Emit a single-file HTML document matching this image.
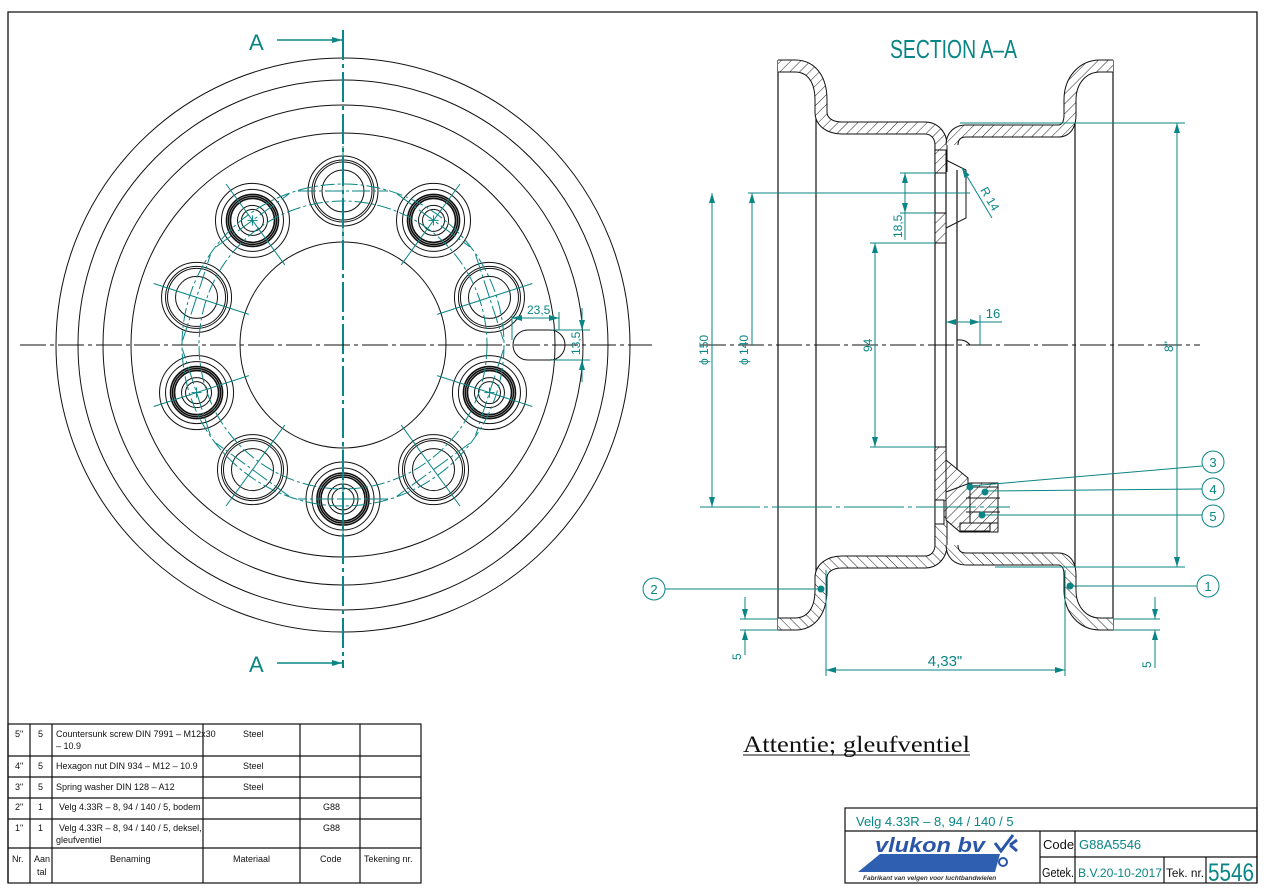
<!DOCTYPE html>
<html><head><meta charset="utf-8"><style>
html,body{margin:0;padding:0;background:#fff}
svg{display:block}
.t{fill:#0a8585;font-family:"Liberation Sans Narrow","Liberation Sans",sans-serif}
.k{font-family:"Liberation Sans Narrow","Liberation Sans",sans-serif;fill:#111}
</style></head><body>
<svg id="s" width="1266" height="891" viewBox="0 0 1266 891" xmlns="http://www.w3.org/2000/svg">
<defs>
<pattern id="h" width="7" height="7" patternUnits="userSpaceOnUse" patternTransform="rotate(45)">
<rect width="7" height="7" fill="#fff"/><line x1="0" y1="0" x2="0" y2="7" stroke="#222" stroke-width="1"/>
</pattern>
<marker id="a" markerWidth="10" markerHeight="6" refX="10" refY="3" orient="auto-start-reverse" markerUnits="userSpaceOnUse"><path d="M0,0L10,3L0,6z" fill="#0a8585"/></marker>
</defs>
<path d="M8,883V12H1257V883" fill="none" stroke="#111" stroke-width="1.3"/>

<g fill="none" stroke="#111" stroke-width="1">
<circle cx="343" cy="345" r="287"/>
<circle cx="343" cy="345" r="265"/>
<circle cx="343" cy="345" r="240"/>
<circle cx="343" cy="345" r="212"/>
<circle cx="343" cy="345" r="103"/>
<path d="M528,330H550A15,15 0 0 1 550,360H528A15,15 0 0 1 528,330Z"/>
</g>
<g id="holes"></g>
<g fill="none" stroke="#0a8585" stroke-width="1" stroke-dasharray="14,3,3,3">
<circle cx="343" cy="345" r="144"/>
<circle cx="343" cy="345" r="161"/>
</g>
<line x1="343" y1="30" x2="343" y2="668" stroke="#0a8585" stroke-width="2" stroke-dasharray="30,4,4,4"/>
<line x1="20" y1="345" x2="652" y2="345" stroke="#111" stroke-width="1" stroke-dasharray="26,4,4,4"/>
<g stroke="#0a8585" stroke-width="1.5" fill="none">
<line x1="277" y1="40" x2="342" y2="40" marker-end="url(#a)"/>
<line x1="277" y1="663" x2="342" y2="663" marker-end="url(#a)"/>
</g>
<text x="249" y="50" class="t" font-size="22">A</text>
<text x="249" y="672" class="t" font-size="22">A</text>
<g stroke="#0a8585" stroke-width="1" fill="none">
<line x1="512" y1="315" x2="512" y2="340"/>
<line x1="559" y1="312" x2="559" y2="330"/>
<line x1="512" y1="318" x2="559" y2="318" marker-start="url(#a)" marker-end="url(#a)"/>
<line x1="552" y1="330" x2="590" y2="330"/>
<line x1="552" y1="360" x2="590" y2="360"/>
<line x1="582" y1="308" x2="582" y2="330" marker-end="url(#a)"/>
<line x1="582" y1="382" x2="582" y2="360" marker-end="url(#a)"/>
</g>
<text x="527" y="314" class="t" font-size="12">23,5</text>
<text transform="translate(580,355) rotate(-90)" class="t" font-size="12">13,5</text>

<text x="890" y="58" class="t" font-size="26" textLength="127" lengthAdjust="spacingAndGlyphs">SECTION A–A</text>
<g fill="none" stroke="#111" stroke-width="1.2">
<line x1="778" y1="60" x2="778" y2="630"/>
<line x1="816" y1="72" x2="816" y2="618"/>
<line x1="1075" y1="72" x2="1075" y2="618"/>
<line x1="1113" y1="60" x2="1113" y2="630"/>
<line x1="935" y1="145" x2="935" y2="545"/>
<line x1="946" y1="150" x2="946" y2="540"/>
<line x1="957" y1="170" x2="957" y2="520"/>
</g>
<g id="rim" fill="none" stroke-linejoin="round">
<path id="p1" d="M778,66H795C812,66 821,80 821,100V112C821,122 830,128 842,128H925C934,128 941,135 941,145V172"/>
<path id="p2" d="M952,145C952,136 958,131 966,131H1058C1066,131 1070,125 1070,115V100C1070,80 1083,66 1100,66H1113"/>
</g>
<g stroke="#111" stroke-width="1">
<rect x="935" y="150" width="11" height="23" fill="url(#h)"/>
<rect x="935" y="213" width="11" height="30" fill="url(#h)"/>
<rect x="935" y="447" width="11" height="70" fill="url(#h)"/>
<path d="M946,460L968,478V492H946Z" fill="url(#h)"/>
<path d="M946,160L966,170V218L946,228" fill="none"/>
<rect x="935" y="500" width="9" height="24" fill="#fff"/>
<path d="M946,492L970,483H998V532H960L946,520Z" fill="url(#h)"/>
<rect x="970" y="487" width="28" height="36" fill="url(#h)"/>
<line x1="966" y1="498" x2="1000" y2="498"/>
<line x1="966" y1="512" x2="1000" y2="512"/>
<rect x="960" y="523" width="30" height="8" fill="none"/>
<path d="M957,322V340H958A13,13 0 0 1 970,345" fill="none"/>
</g>
<line x1="700" y1="345" x2="1200" y2="345" stroke="#111" stroke-dasharray="26,4,4,4"/>
<line x1="700" y1="507" x2="1010" y2="507" stroke="#0a8585" stroke-dasharray="60,4,4,4"/>
<g stroke="#0a8585" stroke-width="1" fill="none">
<line x1="748" y1="193" x2="970" y2="193"/>
<line x1="712" y1="193" x2="712" y2="507" marker-start="url(#a)" marker-end="url(#a)"/>
<line x1="752" y1="193" x2="752" y2="345" marker-start="url(#a)"/>
<line x1="870" y1="243" x2="935" y2="243"/>
<line x1="870" y1="447" x2="935" y2="447"/>
<line x1="875" y1="243" x2="875" y2="447" marker-start="url(#a)" marker-end="url(#a)"/>
<line x1="900" y1="173" x2="935" y2="173"/>
<line x1="900" y1="213" x2="935" y2="213"/>
<line x1="905" y1="173" x2="905" y2="213" marker-start="url(#a)" marker-end="url(#a)"/>
<line x1="905" y1="213" x2="905" y2="240"/>
<line x1="992" y1="218" x2="962" y2="168" marker-end="url(#a)"/>
<line x1="946" y1="322" x2="1002" y2="322"/>
<line x1="946" y1="322" x2="980" y2="322" marker-start="url(#a)" marker-end="url(#a)"/>
<line x1="980" y1="315" x2="980" y2="345"/>
<line x1="960" y1="123" x2="1185" y2="123"/>
<line x1="995" y1="567" x2="1185" y2="567"/>
<line x1="1177" y1="123" x2="1177" y2="567" marker-start="url(#a)" marker-end="url(#a)"/>
<line x1="826" y1="570" x2="826" y2="676"/>
<line x1="1065" y1="570" x2="1065" y2="676"/>
<line x1="826" y1="670" x2="1065" y2="670" marker-start="url(#a)" marker-end="url(#a)"/>
<line x1="740" y1="619" x2="778" y2="619"/>
<line x1="740" y1="630" x2="778" y2="630"/>
<line x1="745" y1="597" x2="745" y2="619" marker-end="url(#a)"/>
<line x1="745" y1="655" x2="745" y2="630" marker-end="url(#a)"/>
<line x1="1113" y1="619" x2="1160" y2="619"/>
<line x1="1113" y1="630" x2="1160" y2="630"/>
<line x1="1155" y1="597" x2="1155" y2="619" marker-end="url(#a)"/>
<line x1="1155" y1="668" x2="1155" y2="630" marker-end="url(#a)"/>
<line x1="970" y1="486" x2="1202" y2="466"/>
<line x1="985" y1="491" x2="1202" y2="489"/>
<line x1="982" y1="515" x2="1202" y2="515"/>
<line x1="1070" y1="586" x2="1197" y2="586"/>
<line x1="820" y1="589" x2="665" y2="589"/>
<circle cx="1213" cy="462" r="11"/><circle cx="1213" cy="489" r="11"/><circle cx="1213" cy="516" r="11"/>
<circle cx="1208" cy="586" r="11"/><circle cx="654" cy="589" r="11"/>
</g>
<g fill="#0a8585"><circle cx="970" cy="487" r="3.5"/><circle cx="985" cy="492" r="3.5"/><circle cx="982" cy="515" r="3.5"/><circle cx="1070" cy="586" r="3.5"/><circle cx="821" cy="589" r="3.5"/></g>
<g class="t" font-size="13" text-anchor="middle">
<text x="1213" y="467">3</text><text x="1213" y="494">4</text><text x="1213" y="521">5</text>
<text x="1208" y="591">1</text><text x="654" y="594">2</text>
<text x="945" y="666" font-size="15">4,33"</text>
<text x="993" y="318">16</text>
</g>
<g class="t" font-size="12">
<text transform="translate(708,365) rotate(-90)">ϕ 150</text>
<text transform="translate(748,365) rotate(-90)">ϕ 140</text>
<text transform="translate(872,352) rotate(-90)">94</text>
<text transform="translate(902,238) rotate(-90)">18,5</text>
<text transform="translate(1173,352) rotate(-90)">8"</text>
<text transform="translate(741,660) rotate(-90)">5</text>
<text transform="translate(1151,668) rotate(-90)">5</text>
<text transform="translate(980,190) rotate(60)">R 14</text>
</g>

<text x="743" y="752" style="font-family:'Liberation Serif',serif" font-size="23" fill="#111" textLength="227" lengthAdjust="spacingAndGlyphs">Attentie;  gleufventiel</text>
<line x1="743" y1="755" x2="970" y2="755" stroke="#111"/>

<g stroke="#111" stroke-width="1.2" fill="none">
<rect x="8" y="724" width="413" height="159"/>
<line x1="8" y1="756" x2="421" y2="756"/><line x1="8" y1="777" x2="421" y2="777"/>
<line x1="8" y1="798" x2="421" y2="798"/><line x1="8" y1="819" x2="421" y2="819"/>
<line x1="8" y1="848" x2="421" y2="848"/>
<line x1="30" y1="724" x2="30" y2="883"/><line x1="52" y1="724" x2="52" y2="883"/>
<line x1="203" y1="724" x2="203" y2="883"/><line x1="300" y1="724" x2="300" y2="883"/>
<line x1="360" y1="724" x2="360" y2="883"/>
</g>
<g class="k" font-size="9">
<text x="15" y="737">5"</text><text x="38" y="737">5</text><text x="56" y="737">Countersunk screw DIN 7991 – M12x30</text><text x="56" y="749">– 10.9</text><text x="243" y="737">Steel</text>
<text x="15" y="769">4"</text><text x="38" y="769">5</text><text x="56" y="769">Hexagon nut DIN 934 – M12 – 10.9</text><text x="243" y="769">Steel</text>
<text x="15" y="790">3"</text><text x="38" y="790">5</text><text x="56" y="790">Spring washer DIN 128 – A12</text><text x="243" y="790">Steel</text>
<text x="15" y="810">2"</text><text x="38" y="810">1</text><text x="59" y="810">Velg 4.33R – 8,  94 / 140 / 5,   bodem</text><text x="323" y="810">G88</text>
<text x="15" y="831">1"</text><text x="38" y="831">1</text><text x="59" y="831">Velg 4.33R – 8,   94 / 140 / 5,  deksel,</text><text x="56" y="843">gleufventiel</text><text x="323" y="831">G88</text>
<text x="12" y="862">Nr.</text><text x="34" y="862">Aan</text><text x="37" y="875">tal</text>
<text x="110" y="862">Benaming</text><text x="233" y="862">Materiaal</text><text x="320" y="862">Code</text><text x="364" y="862">Tekening nr.</text>
</g>

<g stroke="#111" stroke-width="1.2" fill="none">
<rect x="845" y="808" width="412" height="75"/>
<line x1="845" y1="831" x2="1257" y2="831"/>
<line x1="1040" y1="831" x2="1040" y2="883"/>
<line x1="1040" y1="857" x2="1257" y2="857"/>
<line x1="1075" y1="831" x2="1075" y2="883"/>
<line x1="1164" y1="857" x2="1164" y2="883"/>
<line x1="1206" y1="857" x2="1206" y2="883"/>
</g>
<text x="856" y="826" class="t" font-size="13">Velg 4.33R – 8,      94 / 140 / 5</text>
<text x="1043" y="849" class="k" font-size="13">Code</text>
<text x="1079" y="849" class="t" font-size="13">G88A5546</text>
<text x="1042" y="877" class="k" font-size="13" textLength="32" lengthAdjust="spacingAndGlyphs">Getek.</text>
<text x="1078" y="877" class="t" font-size="12" textLength="84" lengthAdjust="spacingAndGlyphs">B.V.20-10-2017</text>
<text x="1166" y="877" class="k" font-size="12" textLength="38" lengthAdjust="spacingAndGlyphs">Tek. nr.</text>
<text x="1208" y="881" class="t" font-size="25" textLength="46" lengthAdjust="spacingAndGlyphs">5546</text>
<path d="M858,872L880,854H1000L995,872Z" fill="#2f5fb0"/>
<text x="875" y="852" font-size="20" font-style="italic" font-weight="bold" fill="#2a56a8" style="font-family:'Liberation Sans',sans-serif" textLength="110" lengthAdjust="spacingAndGlyphs">vlukon bv</text>
<path d="M995,843l6,8l12,-16M1010,845l7,-5M1010,845l7,6" stroke="#2a56a8" stroke-width="3" fill="none"/>
<circle cx="1003" cy="862" r="4" fill="none" stroke="#2a56a8" stroke-width="2"/>
<text x="863" y="880" font-size="6.5" font-style="italic" font-weight="bold" fill="#333" style="font-family:'Liberation Sans',sans-serif">Fabrikant van velgen voor luchtbandwielen</text>
</svg>
<script>
(function(){
var NS="http://www.w3.org/2000/svg",g=document.getElementById("holes");
function el(n,a){var e=document.createElementNS(NS,n);for(var k in a)e.setAttribute(k,a[k]);g.appendChild(e);return e;}
for(var i=0;i<10;i++){
 var ang=i*36*Math.PI/180,cx=343+154*Math.sin(ang),cy=345-154*Math.cos(ang);
 var bolt=(i%2==1);
 var rs=bolt?[37,31,26,24,22,15,11]:[35,31,29,21];
 rs.forEach(function(r,j){el("circle",{cx:cx,cy:cy,r:r,fill:"none",stroke:"#111","stroke-width":(bolt&&j>=2&&j<=4)?1.6:1});});
 var dx=Math.sin(ang),dy=-Math.cos(ang);
 el("line",{x1:cx-dx*55,y1:cy-dy*55,x2:cx+dx*45,y2:cy+dy*45,stroke:"#0a8585","stroke-width":1});
 var tx=-dy,ty=dx;
 el("line",{x1:cx-tx*45,y1:cy-ty*45,x2:cx+tx*45,y2:cy+ty*45,stroke:"#0a8585","stroke-width":1,"stroke-dasharray":"18,3,3,3"});
 if(bolt){el("line",{x1:cx-5,y1:cy,x2:cx+5,y2:cy,stroke:"#0a8585"});el("line",{x1:cx,y1:cy-5,x2:cx,y2:cy+5,stroke:"#0a8585"});}
}
var rim=document.getElementById("rim");
["p1","p2"].forEach(function(id){
 var d=document.getElementById(id).getAttribute("d");
 [false,true].forEach(function(m){
  [["#111",13],["url(#h)",11]].forEach(function(st){
   var p=document.createElementNS(NS,"path");p.setAttribute("d",d);p.setAttribute("fill","none");
   p.setAttribute("stroke",st[0]);p.setAttribute("stroke-width",st[1]);
   if(m)p.setAttribute("transform","translate(0,690) scale(1,-1)");
   rim.appendChild(p);
  });
 });
 document.getElementById(id).remove();
});
})();
</script>
</body></html>
